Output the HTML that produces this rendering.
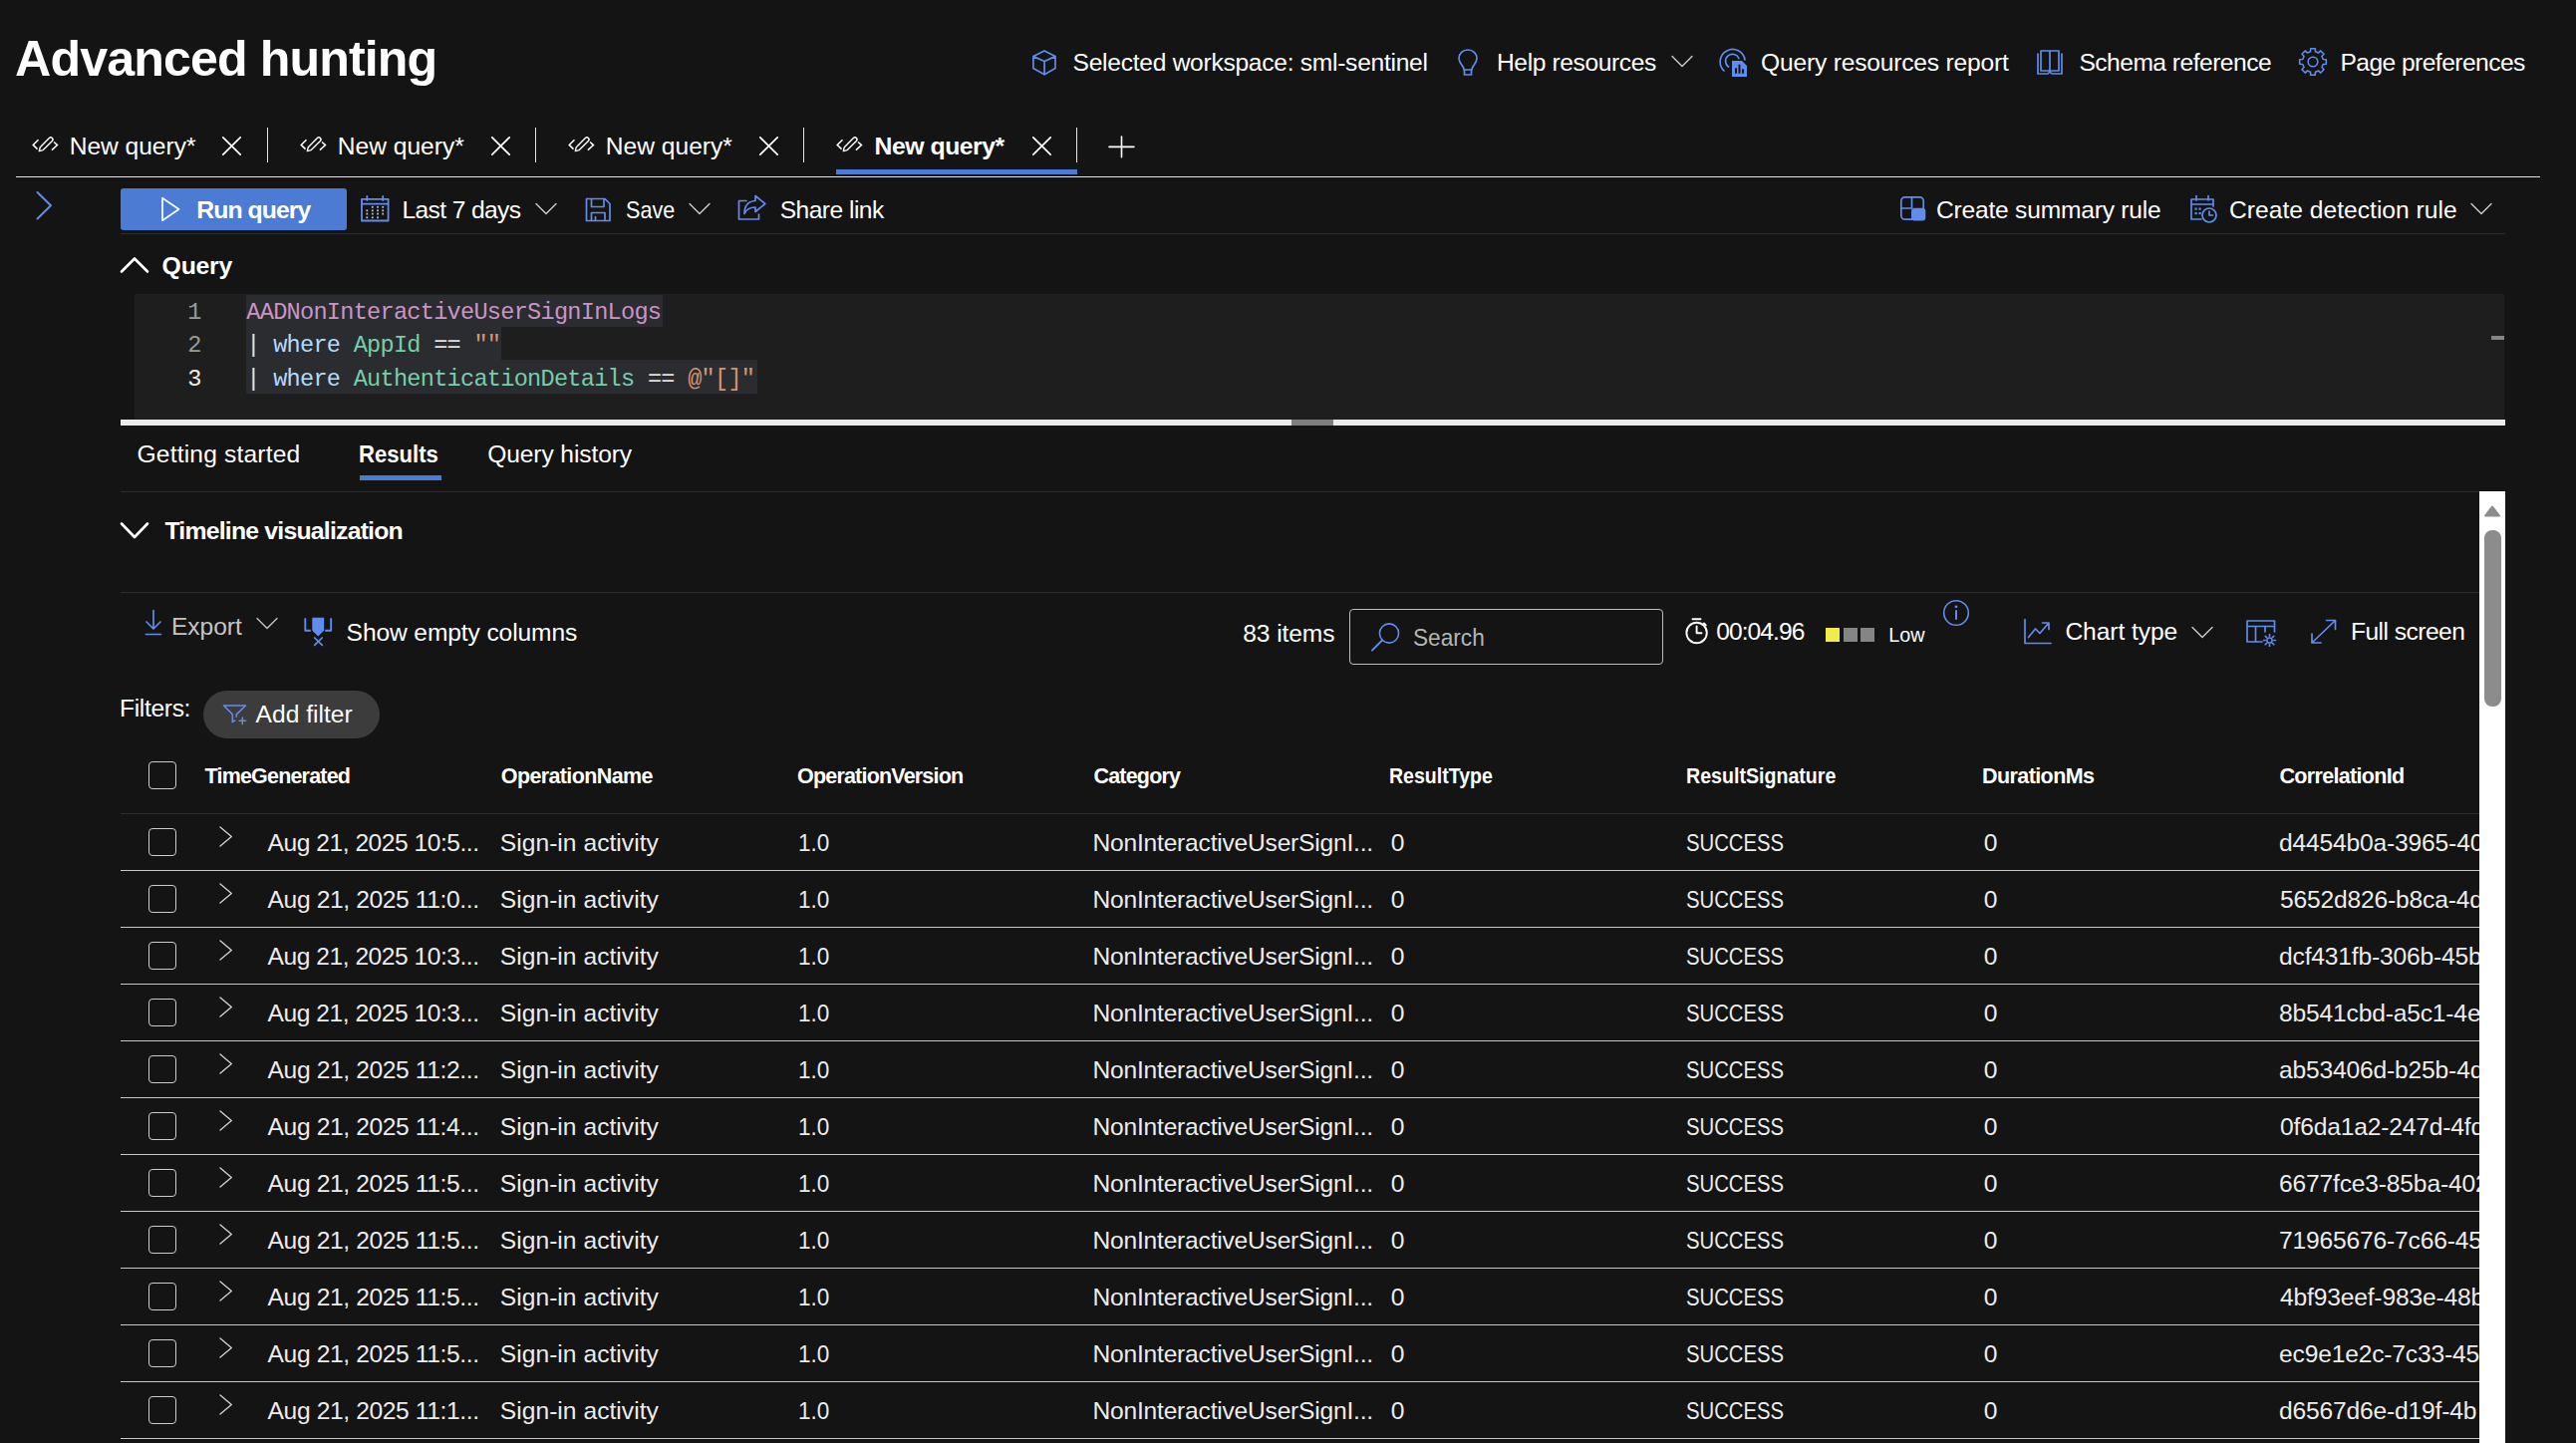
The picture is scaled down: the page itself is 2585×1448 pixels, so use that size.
<!DOCTYPE html>
<html lang="en"><head><meta charset="utf-8"><title>Advanced hunting</title>
<style>
html,body{margin:0;padding:0;background:#141414;}
body{width:2585px;height:1448px;position:relative;overflow:hidden;font-family:"Liberation Sans",sans-serif;color:#fff;}
#p div,#p svg,#p span{position:absolute;display:block;}
#p span{white-space:pre;line-height:1;font-family:"Liberation Sans",sans-serif;}
#p span.m{font-family:"Liberation Mono",monospace;}
</style></head><body><div id="p">
<svg style="left:1035px;top:49px;" width="26" height="28" viewBox="0 0 26 28" fill="none" stroke-linecap="round" stroke-linejoin="round"><path stroke="#608dec" stroke-width="1.7" d="M13.1 1.9 L24 7.6 V19.6 L13.1 25.8 L1.9 19.6 V7.6 Z M1.9 7.6 L13.1 12.5 L24 7.6 M13.1 12.5 V25.8"/></svg>
<svg style="left:1461px;top:48px;" width="24" height="30" viewBox="0 0 24 30" fill="none" stroke-linecap="round" stroke-linejoin="round"><path stroke="#608dec" stroke-width="1.7" d="M12 2 C6.5 2 3 6 3 10.5 C3 14 5 16 6.5 18 C7.5 19.5 8 20.5 8 22 H16 C16 20.5 16.5 19.5 17.5 18 C19 16 21 14 21 10.5 C21 6 17.5 2 12 2 Z M8.5 22 V27 H15.5 V22"/></svg>
<svg style="left:1677px;top:55px;" width="22" height="13" viewBox="0 0 22 13" fill="none" stroke-linecap="round" stroke-linejoin="round"><path stroke="#cfcfcf" stroke-width="1.4" d="M1 1.5 L11 11.5 L21 1.5"/></svg>
<svg style="left:1724.3px;top:46.5px;" width="30" height="30" viewBox="0 0 30 30" fill="none" stroke-linecap="round" stroke-linejoin="round"><path stroke="#608dec" stroke-width="1.7" d="M6 24 A12.5 12.5 0 1 1 27 13"/><path stroke="#608dec" stroke-width="1.7" d="M10.5 20 A7 7 0 1 1 21 11.5"/><path fill="#608dec" stroke="none" d="M14 14 H24 L29 19 V30 H14 Z"/><path stroke="#141414" stroke-width="2" d="M18 26 V22 M21.5 26 V18.5 M25 26 V23"/></svg>
<svg style="left:2043px;top:49px;" width="28" height="27" viewBox="0 0 28 27" fill="none" stroke-linecap="round" stroke-linejoin="round"><path stroke="#608dec" stroke-width="1.7" d="M5 2 H14 V22 H5 Z M14 2 H23 V22 H14 Z M2 5 V25 H12 L14 23 L16 25 H26 V5"/></svg>
<svg style="left:2305.8px;top:47.1px;" width="30" height="30" viewBox="0 0 30 30" fill="none" stroke-linecap="round" stroke-linejoin="round"><path stroke="#608dec" stroke-width="1.6" d="M28.30 12.68 L28.30 17.32 L25.21 17.45 L23.95 20.49 L26.05 22.76 L22.76 26.05 L20.49 23.95 L17.45 25.21 L17.32 28.30 L12.68 28.30 L12.55 25.21 L9.51 23.95 L7.24 26.05 L3.95 22.76 L6.05 20.49 L4.79 17.45 L1.70 17.32 L1.70 12.68 L4.79 12.55 L6.05 9.51 L3.95 7.24 L7.24 3.95 L9.51 6.05 L12.55 4.79 L12.68 1.70 L17.32 1.70 L17.45 4.79 L20.49 6.05 L22.76 3.95 L26.05 7.24 L23.95 9.51 L25.21 12.55 Z"/><circle stroke="#608dec" stroke-width="1.6" cx="15" cy="15" r="4.8"/></svg>
<svg style="left:31.5px;top:134px;" width="28" height="22" viewBox="0 0 28 22" fill="none" stroke-linecap="round" stroke-linejoin="round"><path stroke="#fff" stroke-width="1.5" stroke-linecap="butt" stroke-linejoin="miter" d="M6.5 6.3 L1.2 11.4 L5.5 15.6 M22.1 8.5 L25.5 11.6 L19.9 16.6"/><path stroke="#fff" stroke-width="1.4" transform="rotate(45 14.3 10.6)" d="M12.2 17 V4.1 A2.1 2.1 0 0 1 16.4 4.1 V17 L14.3 20.5 Z"/></svg>
<svg style="left:222.3px;top:136.3px;" width="21" height="21" viewBox="0 0 21 21" fill="none" stroke-linecap="round" stroke-linejoin="round"><path stroke="#fff" stroke-width="1.7" d="M1.8 1.8 L19.2 19.2 M19.2 1.8 L1.8 19.2"/></svg>
<div style="left:267.5px;top:128px;width:1.3px;height:35px;background:#e6e6e6;"></div>
<svg style="left:300.5px;top:134px;" width="28" height="22" viewBox="0 0 28 22" fill="none" stroke-linecap="round" stroke-linejoin="round"><path stroke="#fff" stroke-width="1.5" stroke-linecap="butt" stroke-linejoin="miter" d="M6.5 6.3 L1.2 11.4 L5.5 15.6 M22.1 8.5 L25.5 11.6 L19.9 16.6"/><path stroke="#fff" stroke-width="1.4" transform="rotate(45 14.3 10.6)" d="M12.2 17 V4.1 A2.1 2.1 0 0 1 16.4 4.1 V17 L14.3 20.5 Z"/></svg>
<svg style="left:491.7px;top:136.3px;" width="21" height="21" viewBox="0 0 21 21" fill="none" stroke-linecap="round" stroke-linejoin="round"><path stroke="#fff" stroke-width="1.7" d="M1.8 1.8 L19.2 19.2 M19.2 1.8 L1.8 19.2"/></svg>
<div style="left:536.8px;top:128px;width:1.3px;height:35px;background:#e6e6e6;"></div>
<svg style="left:569.6px;top:134px;" width="28" height="22" viewBox="0 0 28 22" fill="none" stroke-linecap="round" stroke-linejoin="round"><path stroke="#fff" stroke-width="1.5" stroke-linecap="butt" stroke-linejoin="miter" d="M6.5 6.3 L1.2 11.4 L5.5 15.6 M22.1 8.5 L25.5 11.6 L19.9 16.6"/><path stroke="#fff" stroke-width="1.4" transform="rotate(45 14.3 10.6)" d="M12.2 17 V4.1 A2.1 2.1 0 0 1 16.4 4.1 V17 L14.3 20.5 Z"/></svg>
<svg style="left:760.8px;top:136.3px;" width="21" height="21" viewBox="0 0 21 21" fill="none" stroke-linecap="round" stroke-linejoin="round"><path stroke="#fff" stroke-width="1.7" d="M1.8 1.8 L19.2 19.2 M19.2 1.8 L1.8 19.2"/></svg>
<div style="left:806px;top:128px;width:1.3px;height:35px;background:#e6e6e6;"></div>
<svg style="left:838.6px;top:134px;" width="28" height="22" viewBox="0 0 28 22" fill="none" stroke-linecap="round" stroke-linejoin="round"><path stroke="#fff" stroke-width="1.5" stroke-linecap="butt" stroke-linejoin="miter" d="M6.5 6.3 L1.2 11.4 L5.5 15.6 M22.1 8.5 L25.5 11.6 L19.9 16.6"/><path stroke="#fff" stroke-width="1.4" transform="rotate(45 14.3 10.6)" d="M12.2 17 V4.1 A2.1 2.1 0 0 1 16.4 4.1 V17 L14.3 20.5 Z"/></svg>
<svg style="left:1034.7px;top:136.3px;" width="21" height="21" viewBox="0 0 21 21" fill="none" stroke-linecap="round" stroke-linejoin="round"><path stroke="#fff" stroke-width="1.7" d="M1.8 1.8 L19.2 19.2 M19.2 1.8 L1.8 19.2"/></svg>
<div style="left:1080px;top:128px;width:1.3px;height:35px;background:#e6e6e6;"></div>
<svg style="left:1112px;top:136px;" width="27" height="23" viewBox="0 0 27 23" fill="none" stroke-linecap="round" stroke-linejoin="round"><path stroke="#fff" stroke-width="1.6" d="M13.5 1 V21.7 M1 11.4 H25.9"/></svg>
<div style="left:839.1px;top:170px;width:241.8px;height:4.8px;background:#4a7bd4;"></div>
<div style="left:16px;top:177px;width:2533px;height:1.2px;background:#e4e4e4;"></div>
<svg style="left:34px;top:190px;" width="22" height="32" viewBox="0 0 22 32" fill="none" stroke-linecap="round" stroke-linejoin="round"><path stroke="#608dec" stroke-width="2" d="M3.5 3 L17 16.3 L3.5 29.5"/></svg>
<div style="left:121px;top:189px;width:226.5px;height:42px;background:#4b7bd2;border-radius:3px;"></div>
<svg style="left:160px;top:196px;" width="24" height="28" viewBox="0 0 24 28" fill="none" stroke-linecap="round" stroke-linejoin="round"><path stroke="#fff" stroke-width="1.7" d="M3 2.8 L19.5 14 L3 25.2 Z"/></svg>
<svg style="left:361px;top:195.5px;" width="30" height="27" viewBox="0 0 30 27" fill="none" stroke-linecap="round" stroke-linejoin="round"><path stroke="#608dec" stroke-width="1.8" d="M2 3.8 H28.6 V25.5 H2 Z M2 8.6 H28.6 M7.3 1 V5 M23.2 1 V5"/><rect x="11.9" y="10.9" width="1.8" height="1.8" fill="#aebfe6" stroke="none"/><rect x="17.1" y="10.9" width="1.8" height="1.8" fill="#aebfe6" stroke="none"/><rect x="22.3" y="10.9" width="1.8" height="1.8" fill="#aebfe6" stroke="none"/><rect x="6.3999999999999995" y="14.4" width="1.8" height="1.8" fill="#aebfe6" stroke="none"/><rect x="11.9" y="14.4" width="1.8" height="1.8" fill="#aebfe6" stroke="none"/><rect x="17.1" y="14.4" width="1.8" height="1.8" fill="#aebfe6" stroke="none"/><rect x="22.3" y="14.4" width="1.8" height="1.8" fill="#aebfe6" stroke="none"/><rect x="6.3999999999999995" y="17.700000000000003" width="1.8" height="1.8" fill="#aebfe6" stroke="none"/><rect x="11.9" y="17.700000000000003" width="1.8" height="1.8" fill="#aebfe6" stroke="none"/><rect x="17.1" y="17.700000000000003" width="1.8" height="1.8" fill="#aebfe6" stroke="none"/><rect x="22.3" y="17.700000000000003" width="1.8" height="1.8" fill="#aebfe6" stroke="none"/><rect x="6.3999999999999995" y="21.400000000000002" width="1.8" height="1.8" fill="#aebfe6" stroke="none"/><rect x="11.9" y="21.400000000000002" width="1.8" height="1.8" fill="#aebfe6" stroke="none"/><rect x="17.1" y="21.400000000000002" width="1.8" height="1.8" fill="#aebfe6" stroke="none"/></svg>
<svg style="left:536.6px;top:203.3px;" width="22" height="13" viewBox="0 0 22 13" fill="none" stroke-linecap="round" stroke-linejoin="round"><path stroke="#cfcfcf" stroke-width="1.4" d="M1 1.5 L11 11.5 L21 1.5"/></svg>
<svg style="left:586.5px;top:197.5px;" width="27" height="25" viewBox="0 0 27 25" fill="none" stroke-linecap="round" stroke-linejoin="round"><path stroke="#608dec" stroke-width="1.7" d="M1.5 1.5 H20 L25 6.5 V23.5 H1.5 Z M6.5 1.5 V9.5 H19 V1.5 M6.5 23.5 V15.5 H20 V23.5 M10.5 19.5 V23.5"/></svg>
<svg style="left:691.4px;top:203.3px;" width="22" height="13" viewBox="0 0 22 13" fill="none" stroke-linecap="round" stroke-linejoin="round"><path stroke="#cfcfcf" stroke-width="1.4" d="M1 1.5 L11 11.5 L21 1.5"/></svg>
<svg style="left:739.5px;top:195.3px;" width="30" height="27" viewBox="0 0 30 27" fill="none" stroke-linecap="round" stroke-linejoin="round"><path stroke="#608dec" stroke-width="1.7" d="M9 6.5 H1.5 V25 H21.5 V20"/><path stroke="#608dec" stroke-width="1.7" d="M18 1.5 L27.8 9.5 L18 17.5 V13 C12 13 9 15 7 19.5 C7 11.5 11 7 18 6.5 Z"/></svg>
<svg style="left:1906px;top:196.4px;" width="28" height="27" viewBox="0 0 28 27" fill="none" stroke-linecap="round" stroke-linejoin="round"><rect stroke="#608dec" stroke-width="1.7" x="1.8" y="1.8" width="22.4" height="22.4" rx="4"/><path stroke="#608dec" stroke-width="1.7" d="M12.5 1.8 V13 M1.8 13 H12.5"/><rect x="12" y="12.8" width="14.3" height="12.6" rx="3.2" fill="#608dec" stroke="none"/></svg>
<svg style="left:2196.5px;top:195px;" width="30" height="30" viewBox="0 0 30 30" fill="none" stroke-linecap="round" stroke-linejoin="round"><path stroke="#608dec" stroke-width="1.7" d="M12 25 H2 V5 H24 V12 M2 10 H24 M7 1.5 V6 M19 1.5 V6"/><circle stroke="#608dec" stroke-width="1.7" cx="20" cy="21" r="7"/><path stroke="#608dec" stroke-width="1.7" d="M20 17 V21 H23.5"/><rect x="5.5" y="13.5" width="2.2" height="2.2" fill="#608dec" stroke="none"/><rect x="9.5" y="13.5" width="2.2" height="2.2" fill="#608dec" stroke="none"/><rect x="5.5" y="18" width="2.2" height="2.2" fill="#608dec" stroke="none"/><rect x="9.5" y="18" width="2.2" height="2.2" fill="#608dec" stroke="none"/></svg>
<svg style="left:2479px;top:203.3px;" width="22" height="13" viewBox="0 0 22 13" fill="none" stroke-linecap="round" stroke-linejoin="round"><path stroke="#cfcfcf" stroke-width="1.4" d="M1 1.5 L11 11.5 L21 1.5"/></svg>
<div style="left:121px;top:233.8px;width:2393px;height:1.2px;background:#2c2c2c;"></div>
<svg style="left:119px;top:256px;" width="32" height="20" viewBox="0 0 32 20" fill="none" stroke-linecap="round" stroke-linejoin="round"><path stroke="#fff" stroke-width="2.6" d="M3 16.5 L16 3.5 L29 16.5"/></svg>
<div style="left:135px;top:295px;width:2378.2px;height:125.5px;background:#1e1e1e;"></div>
<div style="left:246.7px;top:295.5px;width:418.5px;height:32.9px;background:#2a2c30;"></div>
<div style="left:246.7px;top:328.4px;width:256.7px;height:32.9px;background:#2a2c30;"></div>
<div style="left:246.7px;top:361.3px;width:513.3px;height:33.6px;background:#2a2c30;"></div>
<div style="left:2500px;top:337px;width:13.2px;height:3.7px;background:#858585;"></div>
<div style="left:121px;top:421px;width:2393px;height:5.5px;background:#ebebeb;"></div>
<div style="left:1296px;top:421px;width:42px;height:5.5px;background:#7e7e7e;"></div>
<div style="left:361px;top:477px;width:82.2px;height:5px;background:#4a7bd4;"></div>
<div style="left:121px;top:493px;width:2367px;height:1.2px;background:#2c2c2c;"></div>
<div style="left:2488px;top:493px;width:26px;height:955px;background:#ffffff;"></div>
<div style="left:2493px;top:532px;width:16.5px;height:177px;background:#8c8c8c;border-radius:8px;"></div>
<svg style="left:2492px;top:506px;" width="18" height="14" viewBox="0 0 18 14" fill="none" stroke-linecap="round" stroke-linejoin="round"><path fill="#8c8c8c" stroke="#8c8c8c" stroke-width="2" d="M9 2.5 L16 11.5 H2 Z"/></svg>
<svg style="left:119px;top:521.5px;" width="32" height="21" viewBox="0 0 32 21" fill="none" stroke-linecap="round" stroke-linejoin="round"><path stroke="#fff" stroke-width="2.6" d="M3 3.5 L16 17 L29 3.5"/></svg>
<div style="left:121px;top:593.8px;width:2367px;height:1.2px;background:#2c2c2c;"></div>
<svg style="left:143.5px;top:610.5px;" width="20" height="28" viewBox="0 0 20 28" fill="none" stroke-linecap="round" stroke-linejoin="round"><path stroke="#608dec" stroke-width="1.7" d="M10 1.5 V20 M3 13 L10 20 L17 13 M2.5 25.5 H17.5"/></svg>
<svg style="left:257px;top:619px;" width="22" height="13" viewBox="0 0 22 13" fill="none" stroke-linecap="round" stroke-linejoin="round"><path stroke="#c4c4c4" stroke-width="1.4" d="M1 1.5 L11 11.5 L21 1.5"/></svg>
<svg style="left:303.5px;top:619px;" width="30" height="30" viewBox="0 0 30 30" fill="none" stroke-linecap="round" stroke-linejoin="round"><path stroke="#608dec" stroke-width="1.9" stroke-linecap="butt" d="M2.3 1.3 V13.7 H7.8 M28.2 1.3 V13.7 H22.2"/><path fill="#608dec" stroke="none" d="M9.3 0.8 H21.2 V13.7 L15.25 19.6 L9.3 13.7 Z"/><path stroke="#608dec" stroke-width="1.7" d="M11.7 21 L19.3 28.4 M19.3 21 L11.7 28.4"/></svg>
<div style="left:1354px;top:611px;width:315px;height:55.5px;border:1.2px solid #bdbdbd;border-radius:4px;box-sizing:border-box;"></div>
<svg style="left:1374.5px;top:623.5px;" width="31" height="31" viewBox="0 0 31 31" fill="none" stroke-linecap="round" stroke-linejoin="round"><circle stroke="#608dec" stroke-width="1.6" cx="19" cy="11.5" r="9.6"/><path stroke="#608dec" stroke-width="1.8" d="M12 18.5 L2 28.5"/></svg>
<svg style="left:1690px;top:618.5px;" width="26" height="28" viewBox="0 0 26 28" fill="none" stroke-linecap="round" stroke-linejoin="round"><circle stroke="#fff" stroke-width="1.9" cx="12.6" cy="16" r="10.2"/><path stroke="#fff" stroke-width="1.9" d="M8.5 2.2 H16.5 M12.6 9.5 V16.3 H17.5 M20 6.5 L21.8 8.3"/></svg>
<div style="left:1832px;top:630px;width:14px;height:14px;background:#f0ec4a;"></div>
<div style="left:1849.6px;top:630px;width:14px;height:14px;background:#858585;"></div>
<div style="left:1867.3px;top:630px;width:14px;height:14px;background:#858585;"></div>
<svg style="left:1948px;top:600px;" width="30" height="30" viewBox="0 0 30 30" fill="none" stroke-linecap="round" stroke-linejoin="round"><circle stroke="#608dec" stroke-width="1.6" cx="15" cy="15" r="12.3"/><path stroke="#608dec" stroke-width="2" d="M15 13 V21"/><circle cx="15" cy="8.8" r="1.4" fill="#608dec" stroke="none"/></svg>
<svg style="left:2029.5px;top:620px;" width="30" height="28" viewBox="0 0 30 28" fill="none" stroke-linecap="round" stroke-linejoin="round"><path stroke="#608dec" stroke-width="1.7" d="M2 1.5 V25.5 H28"/><path stroke="#608dec" stroke-width="1.7" d="M5.5 19.5 L12.5 11 L17 15.5 L25.5 5.5 M19.5 5 H26 V11.5"/></svg>
<svg style="left:2199.3px;top:627.5px;" width="22" height="13" viewBox="0 0 22 13" fill="none" stroke-linecap="round" stroke-linejoin="round"><path stroke="#cfcfcf" stroke-width="1.4" d="M1 1.5 L11 11.5 L21 1.5"/></svg>
<svg style="left:2253px;top:620.5px;" width="32" height="28" viewBox="0 0 32 28" fill="none" stroke-linecap="round" stroke-linejoin="round"><path stroke="#608dec" stroke-width="1.7" d="M17 23 H2 V2 H29.5 V13 M2 7.5 H29.5 M10.5 7.5 V23 M20 7.5 V13"/><circle stroke="#608dec" stroke-width="1.5" cx="24.5" cy="21.5" r="2.6"/><path stroke="#608dec" stroke-width="1.7" d="M24.5 15.6 V17.2 M24.5 25.8 V27.4 M18.6 21.5 H20.2 M28.8 21.5 H30.4 M20.3 17.3 L21.5 18.5 M27.5 24.5 L28.7 25.7 M28.7 17.3 L27.5 18.5 M21.5 24.5 L20.3 25.7"/></svg>
<svg style="left:2317px;top:620px;" width="30" height="28" viewBox="0 0 30 28" fill="none" stroke-linecap="round" stroke-linejoin="round"><path stroke="#608dec" stroke-width="1.7" d="M3 25 L26.5 2.5 M17.5 2.5 H26.5 V11.5 M3 16 V25 H12"/></svg>
<div style="left:204px;top:693px;width:177px;height:48px;background:#3c3c3c;border-radius:24px;"></div>
<svg style="left:223px;top:706px;" width="26" height="24" viewBox="0 0 26 24" fill="none" stroke-linecap="round" stroke-linejoin="round"><path stroke="#608dec" stroke-width="1.6" d="M1.5 2 H23.5 L14.3 10.8 V13.2 M10.3 18.5 V10.8 L1.5 2 M10.3 18.5 L12.6 17"/><path stroke="#608dec" stroke-width="1.5" d="M20.3 14 V20.6 M17 17.3 H23.6"/></svg>
<div style="left:148.8px;top:764px;width:28px;height:28px;border:1.2px solid #cdcdcd;border-radius:4px;box-sizing:border-box;"></div>
<div style="left:121px;top:816px;width:2367px;height:1.2px;background:#2e2e2e;"></div>
<div style="left:148.8px;top:831px;width:28px;height:28px;border:1.2px solid #cdcdcd;border-radius:4px;box-sizing:border-box;"></div>
<svg style="left:219px;top:827.5px;" width="16" height="24" viewBox="0 0 16 24" fill="none" stroke-linecap="round" stroke-linejoin="round"><path stroke="#cfcfcf" stroke-width="1.4" d="M2 2 L13.3 11.5 L2 21"/></svg>
<div style="left:121px;top:872.8px;width:2367px;height:1.3px;background:#c8c8c8;"></div>
<div style="left:148.8px;top:888px;width:28px;height:28px;border:1.2px solid #cdcdcd;border-radius:4px;box-sizing:border-box;"></div>
<svg style="left:219px;top:884.5px;" width="16" height="24" viewBox="0 0 16 24" fill="none" stroke-linecap="round" stroke-linejoin="round"><path stroke="#cfcfcf" stroke-width="1.4" d="M2 2 L13.3 11.5 L2 21"/></svg>
<div style="left:121px;top:929.8px;width:2367px;height:1.3px;background:#c8c8c8;"></div>
<div style="left:148.8px;top:945px;width:28px;height:28px;border:1.2px solid #cdcdcd;border-radius:4px;box-sizing:border-box;"></div>
<svg style="left:219px;top:941.5px;" width="16" height="24" viewBox="0 0 16 24" fill="none" stroke-linecap="round" stroke-linejoin="round"><path stroke="#cfcfcf" stroke-width="1.4" d="M2 2 L13.3 11.5 L2 21"/></svg>
<div style="left:121px;top:986.8px;width:2367px;height:1.3px;background:#c8c8c8;"></div>
<div style="left:148.8px;top:1002px;width:28px;height:28px;border:1.2px solid #cdcdcd;border-radius:4px;box-sizing:border-box;"></div>
<svg style="left:219px;top:998.5px;" width="16" height="24" viewBox="0 0 16 24" fill="none" stroke-linecap="round" stroke-linejoin="round"><path stroke="#cfcfcf" stroke-width="1.4" d="M2 2 L13.3 11.5 L2 21"/></svg>
<div style="left:121px;top:1043.8px;width:2367px;height:1.3px;background:#c8c8c8;"></div>
<div style="left:148.8px;top:1059px;width:28px;height:28px;border:1.2px solid #cdcdcd;border-radius:4px;box-sizing:border-box;"></div>
<svg style="left:219px;top:1055.5px;" width="16" height="24" viewBox="0 0 16 24" fill="none" stroke-linecap="round" stroke-linejoin="round"><path stroke="#cfcfcf" stroke-width="1.4" d="M2 2 L13.3 11.5 L2 21"/></svg>
<div style="left:121px;top:1100.8px;width:2367px;height:1.3px;background:#c8c8c8;"></div>
<div style="left:148.8px;top:1116px;width:28px;height:28px;border:1.2px solid #cdcdcd;border-radius:4px;box-sizing:border-box;"></div>
<svg style="left:219px;top:1112.5px;" width="16" height="24" viewBox="0 0 16 24" fill="none" stroke-linecap="round" stroke-linejoin="round"><path stroke="#cfcfcf" stroke-width="1.4" d="M2 2 L13.3 11.5 L2 21"/></svg>
<div style="left:121px;top:1157.8px;width:2367px;height:1.3px;background:#c8c8c8;"></div>
<div style="left:148.8px;top:1173px;width:28px;height:28px;border:1.2px solid #cdcdcd;border-radius:4px;box-sizing:border-box;"></div>
<svg style="left:219px;top:1169.5px;" width="16" height="24" viewBox="0 0 16 24" fill="none" stroke-linecap="round" stroke-linejoin="round"><path stroke="#cfcfcf" stroke-width="1.4" d="M2 2 L13.3 11.5 L2 21"/></svg>
<div style="left:121px;top:1214.8px;width:2367px;height:1.3px;background:#c8c8c8;"></div>
<div style="left:148.8px;top:1230px;width:28px;height:28px;border:1.2px solid #cdcdcd;border-radius:4px;box-sizing:border-box;"></div>
<svg style="left:219px;top:1226.5px;" width="16" height="24" viewBox="0 0 16 24" fill="none" stroke-linecap="round" stroke-linejoin="round"><path stroke="#cfcfcf" stroke-width="1.4" d="M2 2 L13.3 11.5 L2 21"/></svg>
<div style="left:121px;top:1271.8px;width:2367px;height:1.3px;background:#c8c8c8;"></div>
<div style="left:148.8px;top:1287px;width:28px;height:28px;border:1.2px solid #cdcdcd;border-radius:4px;box-sizing:border-box;"></div>
<svg style="left:219px;top:1283.5px;" width="16" height="24" viewBox="0 0 16 24" fill="none" stroke-linecap="round" stroke-linejoin="round"><path stroke="#cfcfcf" stroke-width="1.4" d="M2 2 L13.3 11.5 L2 21"/></svg>
<div style="left:121px;top:1328.8px;width:2367px;height:1.3px;background:#c8c8c8;"></div>
<div style="left:148.8px;top:1344px;width:28px;height:28px;border:1.2px solid #cdcdcd;border-radius:4px;box-sizing:border-box;"></div>
<svg style="left:219px;top:1340.5px;" width="16" height="24" viewBox="0 0 16 24" fill="none" stroke-linecap="round" stroke-linejoin="round"><path stroke="#cfcfcf" stroke-width="1.4" d="M2 2 L13.3 11.5 L2 21"/></svg>
<div style="left:121px;top:1385.8px;width:2367px;height:1.3px;background:#c8c8c8;"></div>
<div style="left:148.8px;top:1401px;width:28px;height:28px;border:1.2px solid #cdcdcd;border-radius:4px;box-sizing:border-box;"></div>
<svg style="left:219px;top:1397.5px;" width="16" height="24" viewBox="0 0 16 24" fill="none" stroke-linecap="round" stroke-linejoin="round"><path stroke="#cfcfcf" stroke-width="1.4" d="M2 2 L13.3 11.5 L2 21"/></svg>
<div style="left:121px;top:1442.8px;width:2367px;height:1.3px;background:#c8c8c8;"></div>
<span style="left:15.10px;top:34px;font-size:50.2px;font-weight:700;letter-spacing:-0.906px;">Advanced hunting</span>
<span style="left:1076.60px;top:51px;font-size:24.6px;letter-spacing:-0.278px;">Selected workspace: sml-sentinel</span>
<span style="left:1502.00px;top:51px;font-size:24.6px;letter-spacing:-0.392px;">Help resources</span>
<span style="left:1767.00px;top:51px;font-size:24.6px;letter-spacing:-0.192px;">Query resources report</span>
<span style="left:2086.40px;top:51px;font-size:24.6px;letter-spacing:-0.512px;">Schema reference</span>
<span style="left:2348.50px;top:51px;font-size:24.6px;letter-spacing:-0.556px;">Page preferences</span>
<span style="left:69.70px;top:135px;font-size:24.6px;letter-spacing:-0.039px;">New query*</span>
<span style="left:338.80px;top:135px;font-size:24.6px;letter-spacing:-0.017px;">New query*</span>
<span style="left:607.80px;top:135px;font-size:24.6px;letter-spacing:-0.006px;">New query*</span>
<span style="left:877.50px;top:135px;font-size:24.8px;font-weight:700;letter-spacing:-0.478px;">New query*</span>
<span style="left:197.30px;top:199px;font-size:24.8px;font-weight:700;letter-spacing:-0.953px;">Run query</span>
<span style="left:403.40px;top:199px;font-size:24.6px;letter-spacing:-0.608px;">Last 7 days</span>
<span style="left:628.12px;top:199px;font-size:24.6px;transform:scaleX(0.8772);transform-origin:0 0;">Save</span>
<span style="left:782.70px;top:199px;font-size:24.6px;letter-spacing:-0.530px;">Share link</span>
<span style="left:1943.00px;top:199px;font-size:24.6px;letter-spacing:-0.218px;">Create summary rule</span>
<span style="left:2237.00px;top:199px;font-size:24.6px;letter-spacing:0.018px;">Create detection rule</span>
<span style="left:162.60px;top:255px;font-size:24.8px;font-weight:700;letter-spacing:-0.244px;">Query</span>
<span class="m" style="left:188.30px;top:302px;font-size:23.6px;color:#9a9a9a;letter-spacing:-0.740px;">1</span>
<span class="m" style="left:188.30px;top:335px;font-size:23.6px;color:#9a9a9a;letter-spacing:-0.740px;">2</span>
<span class="m" style="left:188.30px;top:369px;font-size:23.6px;color:#ececec;letter-spacing:-0.740px;">3</span>
<span class="m" style="left:247.30px;top:302px;font-size:23.6px;color:#cb94c6;letter-spacing:-0.740px;">AADNonInteractiveUserSignInLogs</span>
<span class="m" style="left:247.30px;top:335px;font-size:23.6px;color:#e0e0e0;letter-spacing:-0.740px;">|</span>
<span class="m" style="left:274.14px;top:335px;font-size:23.6px;color:#b2dafb;letter-spacing:-0.740px;">where</span>
<span class="m" style="left:354.66px;top:335px;font-size:23.6px;color:#78cdac;letter-spacing:-0.740px;">AppId</span>
<span class="m" style="left:435.18px;top:335px;font-size:23.6px;color:#e0e0e0;letter-spacing:-0.740px;">==</span>
<span class="m" style="left:475.44px;top:335px;font-size:23.6px;color:#d4966e;letter-spacing:-0.740px;">&quot;&quot;</span>
<span class="m" style="left:247.30px;top:369px;font-size:23.6px;color:#e0e0e0;letter-spacing:-0.740px;">|</span>
<span class="m" style="left:274.14px;top:369px;font-size:23.6px;color:#b2dafb;letter-spacing:-0.740px;">where</span>
<span class="m" style="left:354.66px;top:369px;font-size:23.6px;color:#78cdac;letter-spacing:-0.740px;">AuthenticationDetails</span>
<span class="m" style="left:649.90px;top:369px;font-size:23.6px;color:#e0e0e0;letter-spacing:-0.740px;">==</span>
<span class="m" style="left:690.16px;top:369px;font-size:23.6px;color:#d4966e;letter-spacing:-0.740px;">@&quot;[]&quot;</span>
<span style="left:137.50px;top:444px;font-size:24.6px;letter-spacing:0.176px;">Getting started</span>
<span style="left:360.41px;top:444px;font-size:24.8px;font-weight:700;transform:scaleX(0.8908);transform-origin:0 0;">Results</span>
<span style="left:489.20px;top:444px;font-size:24.6px;letter-spacing:-0.112px;">Query history</span>
<span style="left:165.40px;top:521px;font-size:24.8px;font-weight:700;letter-spacing:-0.786px;">Timeline visualization</span>
<span style="left:172.00px;top:617px;font-size:24.6px;color:#c4c4c4;letter-spacing:-0.049px;">Export</span>
<span style="left:347.60px;top:623px;font-size:24.6px;letter-spacing:-0.120px;">Show empty columns</span>
<span style="left:1247.30px;top:624px;font-size:24.6px;letter-spacing:-0.107px;">83 items</span>
<span style="left:1417.88px;top:628px;font-size:24.6px;color:#b4b4b4;transform:scaleX(0.9207);transform-origin:0 0;">Search</span>
<span style="left:1722.20px;top:622px;font-size:24.6px;letter-spacing:-0.936px;">00:04.96</span>
<span style="left:1895.30px;top:628px;font-size:19.8px;letter-spacing:-0.001px;">Low</span>
<span style="left:2072.40px;top:622px;font-size:24.6px;letter-spacing:-0.076px;">Chart type</span>
<span style="left:2359.00px;top:622px;font-size:24.6px;letter-spacing:-0.540px;">Full screen</span>
<span style="left:120.00px;top:699px;font-size:24.6px;letter-spacing:-0.335px;">Filters:</span>
<span style="left:256.60px;top:705px;font-size:24.6px;letter-spacing:0.004px;">Add filter</span>
<span style="left:205.60px;top:769px;font-size:21.5px;font-weight:700;letter-spacing:-0.817px;">TimeGenerated</span>
<span style="left:502.80px;top:769px;font-size:21.5px;font-weight:700;letter-spacing:-0.620px;">OperationName</span>
<span style="left:800.00px;top:769px;font-size:21.5px;font-weight:700;letter-spacing:-0.805px;">OperationVersion</span>
<span style="left:1097.50px;top:769px;font-size:21.5px;font-weight:700;letter-spacing:-0.819px;">Category</span>
<span style="left:1394.09px;top:769px;font-size:21.5px;font-weight:700;transform:scaleX(0.9088);transform-origin:0 0;">ResultType</span>
<span style="left:1691.59px;top:769px;font-size:21.5px;font-weight:700;transform:scaleX(0.9121);transform-origin:0 0;">ResultSignature</span>
<span style="left:1989.00px;top:769px;font-size:21.5px;font-weight:700;letter-spacing:-0.588px;">DurationMs</span>
<span style="left:2287.50px;top:769px;font-size:21.5px;font-weight:700;letter-spacing:-0.680px;">CorrelationId</span>
<span style="left:268.60px;top:834px;font-size:24.6px;color:#ececec;letter-spacing:-0.478px;">Aug 21, 2025 10:5...</span>
<span style="left:501.80px;top:834px;font-size:24.6px;color:#ececec;letter-spacing:0.030px;">Sign-in activity</span>
<span style="left:800.98px;top:834px;font-size:24.6px;color:#ececec;transform:scaleX(0.9166);transform-origin:0 0;">1.0</span>
<span style="left:1096.50px;top:834px;font-size:24.6px;color:#ececec;letter-spacing:-0.217px;">NonInteractiveUserSignI...</span>
<span style="left:1395.70px;top:834px;font-size:24.6px;color:#ececec;letter-spacing:-0.500px;">0</span>
<span style="left:1692.17px;top:834px;font-size:24.6px;color:#ececec;transform:scaleX(0.8256);transform-origin:0 0;">SUCCESS</span>
<span style="left:1990.70px;top:834px;font-size:24.6px;color:#ececec;letter-spacing:-0.500px;">0</span>
<span style="left:2287.00px;top:834px;font-size:24.6px;color:#ececec;letter-spacing:-0.170px;width:201.00px;overflow:hidden;">d4454b0a-3965-40</span>
<span style="left:268.60px;top:891px;font-size:24.6px;color:#ececec;letter-spacing:-0.382px;">Aug 21, 2025 11:0...</span>
<span style="left:501.80px;top:891px;font-size:24.6px;color:#ececec;letter-spacing:0.030px;">Sign-in activity</span>
<span style="left:800.98px;top:891px;font-size:24.6px;color:#ececec;transform:scaleX(0.9166);transform-origin:0 0;">1.0</span>
<span style="left:1096.50px;top:891px;font-size:24.6px;color:#ececec;letter-spacing:-0.217px;">NonInteractiveUserSignI...</span>
<span style="left:1395.70px;top:891px;font-size:24.6px;color:#ececec;letter-spacing:-0.500px;">0</span>
<span style="left:1692.17px;top:891px;font-size:24.6px;color:#ececec;transform:scaleX(0.8256);transform-origin:0 0;">SUCCESS</span>
<span style="left:1990.70px;top:891px;font-size:24.6px;color:#ececec;letter-spacing:-0.500px;">0</span>
<span style="left:2288.00px;top:891px;font-size:24.6px;color:#ececec;letter-spacing:-0.170px;width:200.00px;overflow:hidden;">5652d826-b8ca-4d</span>
<span style="left:268.60px;top:948px;font-size:24.6px;color:#ececec;letter-spacing:-0.478px;">Aug 21, 2025 10:3...</span>
<span style="left:501.80px;top:948px;font-size:24.6px;color:#ececec;letter-spacing:0.030px;">Sign-in activity</span>
<span style="left:800.98px;top:948px;font-size:24.6px;color:#ececec;transform:scaleX(0.9166);transform-origin:0 0;">1.0</span>
<span style="left:1096.50px;top:948px;font-size:24.6px;color:#ececec;letter-spacing:-0.217px;">NonInteractiveUserSignI...</span>
<span style="left:1395.70px;top:948px;font-size:24.6px;color:#ececec;letter-spacing:-0.500px;">0</span>
<span style="left:1692.17px;top:948px;font-size:24.6px;color:#ececec;transform:scaleX(0.8256);transform-origin:0 0;">SUCCESS</span>
<span style="left:1990.70px;top:948px;font-size:24.6px;color:#ececec;letter-spacing:-0.500px;">0</span>
<span style="left:2287.00px;top:948px;font-size:24.6px;color:#ececec;letter-spacing:-0.170px;width:201.00px;overflow:hidden;">dcf431fb-306b-45b</span>
<span style="left:268.60px;top:1005px;font-size:24.6px;color:#ececec;letter-spacing:-0.478px;">Aug 21, 2025 10:3...</span>
<span style="left:501.80px;top:1005px;font-size:24.6px;color:#ececec;letter-spacing:0.030px;">Sign-in activity</span>
<span style="left:800.98px;top:1005px;font-size:24.6px;color:#ececec;transform:scaleX(0.9166);transform-origin:0 0;">1.0</span>
<span style="left:1096.50px;top:1005px;font-size:24.6px;color:#ececec;letter-spacing:-0.217px;">NonInteractiveUserSignI...</span>
<span style="left:1395.70px;top:1005px;font-size:24.6px;color:#ececec;letter-spacing:-0.500px;">0</span>
<span style="left:1692.17px;top:1005px;font-size:24.6px;color:#ececec;transform:scaleX(0.8256);transform-origin:0 0;">SUCCESS</span>
<span style="left:1990.70px;top:1005px;font-size:24.6px;color:#ececec;letter-spacing:-0.500px;">0</span>
<span style="left:2287.00px;top:1005px;font-size:24.6px;color:#ececec;letter-spacing:-0.170px;width:201.00px;overflow:hidden;">8b541cbd-a5c1-4e</span>
<span style="left:268.60px;top:1062px;font-size:24.6px;color:#ececec;letter-spacing:-0.382px;">Aug 21, 2025 11:2...</span>
<span style="left:501.80px;top:1062px;font-size:24.6px;color:#ececec;letter-spacing:0.030px;">Sign-in activity</span>
<span style="left:800.98px;top:1062px;font-size:24.6px;color:#ececec;transform:scaleX(0.9166);transform-origin:0 0;">1.0</span>
<span style="left:1096.50px;top:1062px;font-size:24.6px;color:#ececec;letter-spacing:-0.217px;">NonInteractiveUserSignI...</span>
<span style="left:1395.70px;top:1062px;font-size:24.6px;color:#ececec;letter-spacing:-0.500px;">0</span>
<span style="left:1692.17px;top:1062px;font-size:24.6px;color:#ececec;transform:scaleX(0.8256);transform-origin:0 0;">SUCCESS</span>
<span style="left:1990.70px;top:1062px;font-size:24.6px;color:#ececec;letter-spacing:-0.500px;">0</span>
<span style="left:2287.00px;top:1062px;font-size:24.6px;color:#ececec;letter-spacing:-0.170px;width:201.00px;overflow:hidden;">ab53406d-b25b-4d</span>
<span style="left:268.60px;top:1119px;font-size:24.6px;color:#ececec;letter-spacing:-0.382px;">Aug 21, 2025 11:4...</span>
<span style="left:501.80px;top:1119px;font-size:24.6px;color:#ececec;letter-spacing:0.030px;">Sign-in activity</span>
<span style="left:800.98px;top:1119px;font-size:24.6px;color:#ececec;transform:scaleX(0.9166);transform-origin:0 0;">1.0</span>
<span style="left:1096.50px;top:1119px;font-size:24.6px;color:#ececec;letter-spacing:-0.217px;">NonInteractiveUserSignI...</span>
<span style="left:1395.70px;top:1119px;font-size:24.6px;color:#ececec;letter-spacing:-0.500px;">0</span>
<span style="left:1692.17px;top:1119px;font-size:24.6px;color:#ececec;transform:scaleX(0.8256);transform-origin:0 0;">SUCCESS</span>
<span style="left:1990.70px;top:1119px;font-size:24.6px;color:#ececec;letter-spacing:-0.500px;">0</span>
<span style="left:2288.00px;top:1119px;font-size:24.6px;color:#ececec;letter-spacing:-0.170px;width:200.00px;overflow:hidden;">0f6da1a2-247d-4fd</span>
<span style="left:268.60px;top:1176px;font-size:24.6px;color:#ececec;letter-spacing:-0.382px;">Aug 21, 2025 11:5...</span>
<span style="left:501.80px;top:1176px;font-size:24.6px;color:#ececec;letter-spacing:0.030px;">Sign-in activity</span>
<span style="left:800.98px;top:1176px;font-size:24.6px;color:#ececec;transform:scaleX(0.9166);transform-origin:0 0;">1.0</span>
<span style="left:1096.50px;top:1176px;font-size:24.6px;color:#ececec;letter-spacing:-0.217px;">NonInteractiveUserSignI...</span>
<span style="left:1395.70px;top:1176px;font-size:24.6px;color:#ececec;letter-spacing:-0.500px;">0</span>
<span style="left:1692.17px;top:1176px;font-size:24.6px;color:#ececec;transform:scaleX(0.8256);transform-origin:0 0;">SUCCESS</span>
<span style="left:1990.70px;top:1176px;font-size:24.6px;color:#ececec;letter-spacing:-0.500px;">0</span>
<span style="left:2287.00px;top:1176px;font-size:24.6px;color:#ececec;letter-spacing:-0.170px;width:201.00px;overflow:hidden;">6677fce3-85ba-402</span>
<span style="left:268.60px;top:1233px;font-size:24.6px;color:#ececec;letter-spacing:-0.382px;">Aug 21, 2025 11:5...</span>
<span style="left:501.80px;top:1233px;font-size:24.6px;color:#ececec;letter-spacing:0.030px;">Sign-in activity</span>
<span style="left:800.98px;top:1233px;font-size:24.6px;color:#ececec;transform:scaleX(0.9166);transform-origin:0 0;">1.0</span>
<span style="left:1096.50px;top:1233px;font-size:24.6px;color:#ececec;letter-spacing:-0.217px;">NonInteractiveUserSignI...</span>
<span style="left:1395.70px;top:1233px;font-size:24.6px;color:#ececec;letter-spacing:-0.500px;">0</span>
<span style="left:1692.17px;top:1233px;font-size:24.6px;color:#ececec;transform:scaleX(0.8256);transform-origin:0 0;">SUCCESS</span>
<span style="left:1990.70px;top:1233px;font-size:24.6px;color:#ececec;letter-spacing:-0.500px;">0</span>
<span style="left:2287.00px;top:1233px;font-size:24.6px;color:#ececec;letter-spacing:-0.170px;width:201.00px;overflow:hidden;">71965676-7c66-45</span>
<span style="left:268.60px;top:1290px;font-size:24.6px;color:#ececec;letter-spacing:-0.382px;">Aug 21, 2025 11:5...</span>
<span style="left:501.80px;top:1290px;font-size:24.6px;color:#ececec;letter-spacing:0.030px;">Sign-in activity</span>
<span style="left:800.98px;top:1290px;font-size:24.6px;color:#ececec;transform:scaleX(0.9166);transform-origin:0 0;">1.0</span>
<span style="left:1096.50px;top:1290px;font-size:24.6px;color:#ececec;letter-spacing:-0.217px;">NonInteractiveUserSignI...</span>
<span style="left:1395.70px;top:1290px;font-size:24.6px;color:#ececec;letter-spacing:-0.500px;">0</span>
<span style="left:1692.17px;top:1290px;font-size:24.6px;color:#ececec;transform:scaleX(0.8256);transform-origin:0 0;">SUCCESS</span>
<span style="left:1990.70px;top:1290px;font-size:24.6px;color:#ececec;letter-spacing:-0.500px;">0</span>
<span style="left:2288.00px;top:1290px;font-size:24.6px;color:#ececec;letter-spacing:-0.170px;width:200.00px;overflow:hidden;">4bf93eef-983e-48b</span>
<span style="left:268.60px;top:1347px;font-size:24.6px;color:#ececec;letter-spacing:-0.382px;">Aug 21, 2025 11:5...</span>
<span style="left:501.80px;top:1347px;font-size:24.6px;color:#ececec;letter-spacing:0.030px;">Sign-in activity</span>
<span style="left:800.98px;top:1347px;font-size:24.6px;color:#ececec;transform:scaleX(0.9166);transform-origin:0 0;">1.0</span>
<span style="left:1096.50px;top:1347px;font-size:24.6px;color:#ececec;letter-spacing:-0.217px;">NonInteractiveUserSignI...</span>
<span style="left:1395.70px;top:1347px;font-size:24.6px;color:#ececec;letter-spacing:-0.500px;">0</span>
<span style="left:1692.17px;top:1347px;font-size:24.6px;color:#ececec;transform:scaleX(0.8256);transform-origin:0 0;">SUCCESS</span>
<span style="left:1990.70px;top:1347px;font-size:24.6px;color:#ececec;letter-spacing:-0.500px;">0</span>
<span style="left:2287.00px;top:1347px;font-size:24.6px;color:#ececec;letter-spacing:-0.170px;width:201.00px;overflow:hidden;">ec9e1e2c-7c33-45a</span>
<span style="left:268.60px;top:1404px;font-size:24.6px;color:#ececec;letter-spacing:-0.382px;">Aug 21, 2025 11:1...</span>
<span style="left:501.80px;top:1404px;font-size:24.6px;color:#ececec;letter-spacing:0.030px;">Sign-in activity</span>
<span style="left:800.98px;top:1404px;font-size:24.6px;color:#ececec;transform:scaleX(0.9166);transform-origin:0 0;">1.0</span>
<span style="left:1096.50px;top:1404px;font-size:24.6px;color:#ececec;letter-spacing:-0.217px;">NonInteractiveUserSignI...</span>
<span style="left:1395.70px;top:1404px;font-size:24.6px;color:#ececec;letter-spacing:-0.500px;">0</span>
<span style="left:1692.17px;top:1404px;font-size:24.6px;color:#ececec;transform:scaleX(0.8256);transform-origin:0 0;">SUCCESS</span>
<span style="left:1990.70px;top:1404px;font-size:24.6px;color:#ececec;letter-spacing:-0.500px;">0</span>
<span style="left:2287.00px;top:1404px;font-size:24.6px;color:#ececec;letter-spacing:-0.170px;width:201.00px;overflow:hidden;">d6567d6e-d19f-4b</span>
</div></body></html>
